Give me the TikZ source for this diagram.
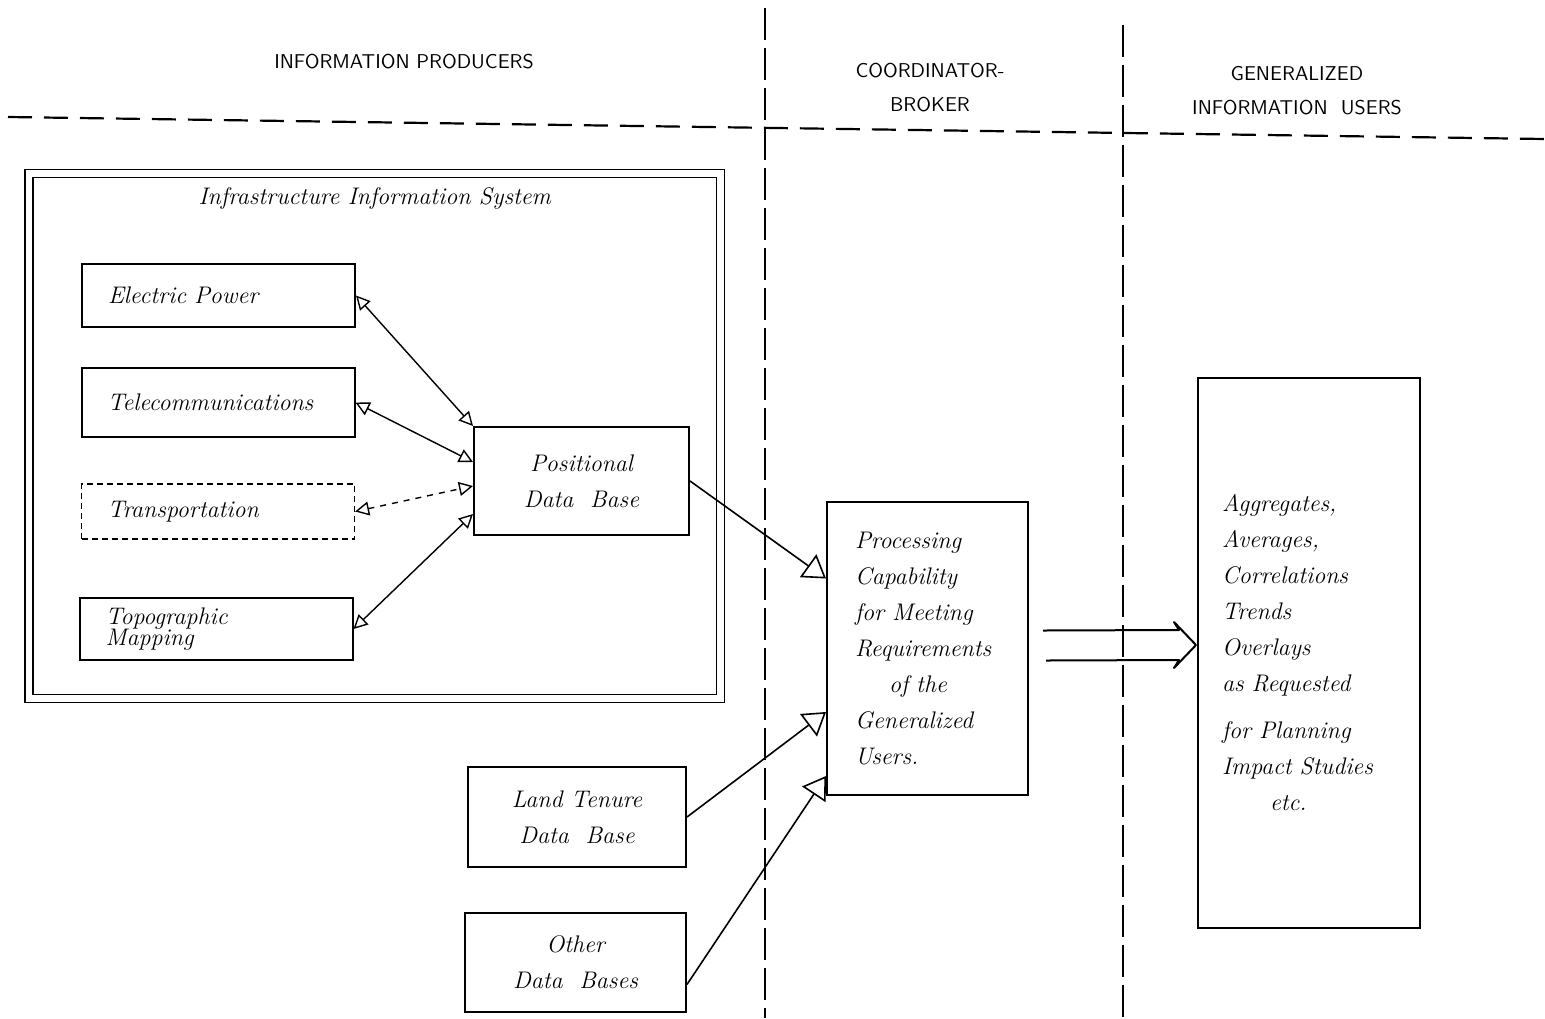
\documentclass[tikz,border=0pt]{standalone}
\usepackage{tikz}
\usetikzlibrary{arrows.meta,calc}

\begin{document}
\begin{tikzpicture}[x=0.5pt,y=-0.5pt,
  >={Triangle[open,length=7pt,width=7pt]},
  box/.style={draw,line width=1pt,font=\itshape\fontsize{12}{18}\selectfont},
  unit/.style={box,inner xsep=13pt,text width=110.5pt,align=left},
  link/.style={<->,line width=0.7pt},
  feed/.style={-{Triangle[open,length=11pt,width=14pt]},line width=0.8pt},
  lane/.style={line width=0.6pt,dash pattern=on 16pt off 4pt},
  head/.style={font=\sffamily\fontsize{10}{17}\selectfont,align=center}]
\useasboundingbox (0,0) rectangle (1545,1018);

% lanes
\draw[lane] (765,8) -- (765,1018);
\draw[lane] (1123,25) -- (1123,1018);
\draw[line width=1.1pt,dash pattern=on 12pt off 6pt] (8,117) -- (1545,139);

\node[head] (prod) at (404,62) {INFORMATION PRODUCERS};
\node[head] (broker) at (930,88) {COORDINATOR-\\BROKER};
\node[head] (users) at (1297,91) {GENERALIZED\\INFORMATION\ \ USERS};

% infrastructure system
\node[draw,line width=0.8pt,double,double distance=3.2pt,minimum width=345.75pt,minimum height=262.5pt] (sys) at (374.75,436) {};
\node[box,draw=none] (systitle) at ([yshift=-12.75pt]sys.north) {Infrastructure Information System};

\node[unit,minimum height=31.5pt] (elec) at (218.5,295.5) {Electric Power};
\node[unit,minimum height=34.5pt] (tele) at (218,402.5) {Telecommunications};
\node[unit,densely dashed,line width=0.6pt,minimum height=27.5pt] (trans) at (218,511.5) {Transportation};
\node[unit,minimum height=31pt] (topo) at (216,629) {Topographic\\[-7.5pt]Mapping};

\node[box,align=center,minimum width=107.5pt,minimum height=54pt] (pos) at (581.5,481) {Positional\\Data\ \ Base};
\node[box,align=center,minimum width=109pt,minimum height=50pt] (land) at (577,817) {Land Tenure\\Data\ \ Base};
\node[box,align=center,minimum width=110.5pt,minimum height=49.5pt] (other) at (575.5,962.5) {Other\\Data\ \ Bases};

% broker and users
\node[box,inner xsep=14pt,text width=72.5pt,align=left,minimum height=146.5pt] (proc) at (927.5,648.5)
  {Processing\\Capability\\for Meeting\\Requirements\\\hspace*{17pt}of the\\Generalized\\Users.};
\node[box,inner xsep=12pt,text width=87pt,align=left,minimum height=275pt] (res) at (1309,653)
  {Aggregates,\\Averages,\\Correlations\\Trends\\Overlays\\as Requested\\[5.5pt]for Planning\\Impact Studies\\\hspace*{24pt}etc.};

\draw[link] (elec.east) -- (pos.north west);
\draw[link] (tele.east) -- ([yshift=9.5pt]pos.west);
\draw[link,dashed] (trans.east) -- ([yshift=-2.5pt]pos.west);
\draw[link] (topo.east) -- ([yshift=-16.5pt]pos.west);

\draw[feed] (pos.east) -- ([yshift=35pt]proc.west);
\draw[feed] (land.east) -- ([yshift=-31.75pt]proc.west);
\draw[feed] ([yshift=-11pt]other.east) -- ([yshift=10pt]proc.south west);

% wide arrow
\coordinate (tip) at ($(res.west)+(-1,-8)$);
\draw[line width=1pt,line join=round] ($(proc.east)+(14,-18)$) -- ($(tip)+(-17,-15)$) -- ($(tip)+(-22,-23)$) -- (tip)
  -- ($(tip)+(-22,23)$) -- ($(tip)+(-17,15)$) -- ($(proc.east)+(17,12)$);
\end{tikzpicture}
\end{document}
